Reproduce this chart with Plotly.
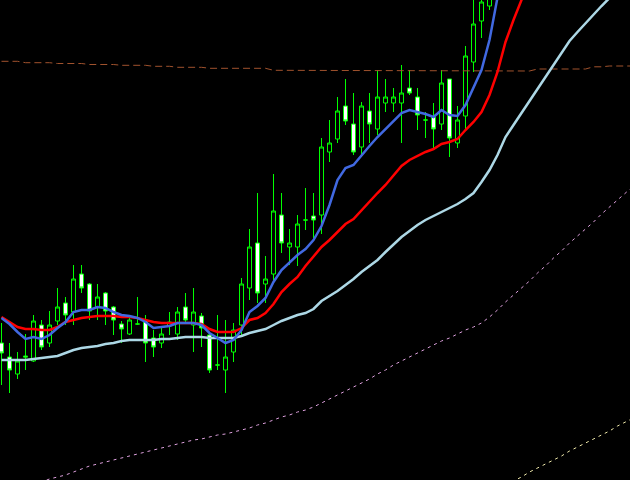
import plotly.graph_objects as go

# Bar index (time axis)
bars = list(range(80))

# Candles (price levels)
opens = [137, 123, 106, 124, 119, 155, 137, 159, 177, 168,
         206, 196, 173, 187, 173, 156, 146, 156, 160, 142,
         137, 154, 146, 173, 155, 164, 145, 115, 110, 128,
         155, 192, 237, 196, 206, 265, 233, 233, 260, 264,
         265, 328, 341, 374, 356, 333, 369, 351, 377, 377,
         377, 392, 383, 360, 363, 356, 401, 337, 364, 418,
         459, 474]
highs = [157, 137, 128, 146, 165, 160, 169, 192, 183, 215,
         215, 197, 196, 188, 174, 159, 165, 183, 165, 150,
         153, 168, 173, 187, 192, 167, 147, 165, 160, 157,
         202, 251, 287, 224, 306, 287, 251, 265, 292, 287,
         342, 360, 383, 401, 387, 378, 387, 410, 401, 392,
         415, 410, 392, 368, 377, 410, 401, 374, 434, 485,
         490, 510]
lows = [95, 87, 101, 110, 118, 130, 133, 155, 155, 155,
        187, 160, 160, 155, 145, 137, 145, 155, 118, 123,
        132, 145, 140, 157, 128, 133, 107, 110, 87, 118,
        145, 180, 177, 177, 200, 227, 215, 214, 250, 242,
        246, 318, 337, 355, 325, 323, 337, 345, 368, 368,
        337, 385, 350, 342, 332, 350, 323, 332, 350, 408,
        442, 470]
closes = [127, 110, 119, 123, 159, 133, 155, 173, 165, 201,
          192, 169, 183, 169, 160, 151, 160, 156, 137, 133,
          146, 158, 168, 160, 168, 152, 110, 115, 123, 150,
          196, 233, 187, 201, 269, 237, 237, 256, 260, 260,
          333, 337, 369, 359, 328, 374, 356, 383, 383, 383,
          387, 387, 365, 360, 351, 397, 342, 360, 424, 456,
          478, 500]

# Moving averages
ma_fast = [162, 156, 148, 141, 143, 141, 145, 152, 158, 168,
           170, 170, 173, 172, 168, 165, 164, 162, 158, 152,
           153, 154, 157, 157, 157, 155, 147, 142, 137, 140,
           150, 168, 174, 182, 198, 210, 218, 225, 231, 240,
           254, 275, 300, 312, 315, 325, 334, 343, 351, 360,
           367, 370, 368, 366, 363, 370, 365, 364, 375, 393,
           410, 440, 483, 525]
ma_mid = [163, 158, 153, 151, 151, 150, 150, 153, 158, 160,
          162, 163, 164, 164, 164, 163, 163, 162, 160, 158,
          157, 157, 157, 157, 157, 156, 151, 148, 148, 148,
          152, 160, 162, 167, 176, 188, 196, 203, 214, 224,
          233, 240, 248, 256, 261, 270, 279, 287, 295, 304,
          314, 320, 324, 328, 331, 336, 338, 341, 350, 358,
          368, 385, 408, 438, 460, 479, 500]
ma_slow = [120, 120, 120, 120, 121, 122, 123, 124, 127, 130,
           132, 133, 134, 136, 137, 139, 140, 140, 140, 140,
           141, 141, 142, 143, 143, 143, 142, 142, 142, 142,
           144, 147, 149, 151, 155, 159, 162, 165, 167, 171,
           179, 184, 189, 195, 201, 208, 214, 220, 228, 236,
           243, 249, 255, 260, 264, 268, 272, 276, 281, 287,
           298, 310, 325, 343, 355, 367, 379, 391, 403, 415,
           427, 439, 448, 457, 465, 474, 482, 490]
ma_htf = [418.7, 418.7, 418.7, 417.3, 417.3, 417.3, 417.3, 416.5, 416.5, 416.5,
          416.5, 415.5, 415.5, 415.5, 415.5, 414.7, 414.7, 414.7, 414.7, 413.7,
          413.7, 413.7, 412.7, 412.7, 412.7, 412.7, 411.7, 411.7, 411.7, 411.7,
          411.7, 411.7, 411.7, 411.7, 409.7, 409.7, 409.7, 409.7, 409.7, 409.7,
          409.7, 409, 409, 409, 409, 409, 409, 409, 409, 409,
          409, 409, 409, 409, 409, 409, 409, 409, 409, 409,
          409, 409, 409, 409, 409, 409, 409, 411, 411, 411,
          411, 411, 411, 411, 413.2, 413.2, 414, 414, 414, 414]
band_lower = [None, None, None, None, -5, -2, 1, 3, 5, 8,
              11, 14, 16, 18, 20, 22, 24, 26, 28, 30,
              32, 34, 36, 38, 40, 41, 43, 45, 46, 48,
              50, 52, 55, 57, 60, 63, 65, 68, 70, 73,
              77, 81, 85, 89, 93, 97, 101, 106, 110, 115,
              119, 123, 127, 131, 135, 139, 142, 146, 150, 153,
              157, 163, 170, 178, 185, 192, 199, 207, 214, 222,
              229, 237, 244, 251, 258, 266, 273, 280, 287, 294]
band_lower2 = [None] * 63 + [-5, -1, 3, 8, 12, 16, 20, 24, 29, 33,
                             37, 41, 45, 49, 54, 58, 62]

fig = go.Figure()

fig.add_trace(go.Scatter(x=bars[:len(ma_htf)], y=ma_htf, mode="lines",
                         line=dict(color="#A0522D", width=1, dash="7px,4px"),
                         hoverinfo="skip"))
fig.add_trace(go.Scatter(x=bars[:len(band_lower)], y=band_lower, mode="lines",
                         line=dict(color="#DDA0DD", width=1, dash="3px,4px"),
                         hoverinfo="skip"))
fig.add_trace(go.Scatter(x=bars[:len(band_lower2)], y=band_lower2, mode="lines",
                         line=dict(color="#EEE8AA", width=1, dash="3px,4px"),
                         hoverinfo="skip"))

fig.add_trace(go.Candlestick(
    x=bars[:len(opens)], open=opens, high=highs, low=lows, close=closes,
    increasing=dict(line=dict(color="#00FF00", width=1), fillcolor="#000000"),
    decreasing=dict(line=dict(color="#00FF00", width=1), fillcolor="#FFFFFF"),
    whiskerwidth=0, hoverinfo="skip"))

fig.add_trace(go.Scatter(x=bars[:len(ma_slow)], y=ma_slow, mode="lines",
                         line=dict(color="#ADD8E6", width=2.5), hoverinfo="skip"))
fig.add_trace(go.Scatter(x=bars[:len(ma_mid)], y=ma_mid, mode="lines",
                         line=dict(color="#FF0000", width=2.5), hoverinfo="skip"))
fig.add_trace(go.Scatter(x=bars[:len(ma_fast)], y=ma_fast, mode="lines",
                         line=dict(color="#4169E1", width=2.5), hoverinfo="skip"))

fig.update_layout(
    width=630, height=480,
    margin=dict(l=0, r=0, t=0, b=0),
    paper_bgcolor="#000000", plot_bgcolor="#000000",
    showlegend=False,
    boxgap=0.5, boxgroupgap=0,
    xaxis=dict(range=[-0.1875, 78.5625], visible=False, showgrid=False,
               zeroline=False, rangeslider=dict(visible=False)),
    yaxis=dict(range=[0, 480], visible=False, showgrid=False, zeroline=False),
)

fig.write_html("out.html",
               config={"displayModeBar": False, "staticPlot": True},
               post_script="document.body.style.margin='0';document.body.style.padding='0';document.body.style.overflow='hidden';document.body.style.background='#000';")
